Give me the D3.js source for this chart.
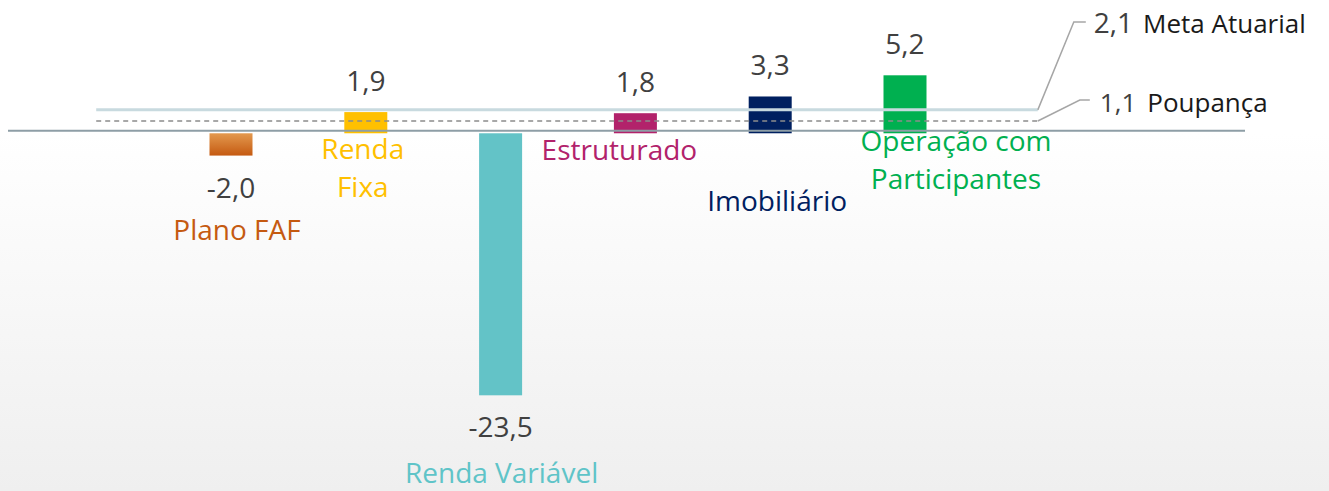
<!DOCTYPE html>
<html>
<head>
<meta charset="utf-8">
<script src="https://cdn.jsdelivr.net/npm/d3@7"></script>
<style>
  html, body { margin: 0; padding: 0; background: #fff; }
  svg { display: block; font-family: "Open Sans", sans-serif; }
</style>
</head>
<body>
<svg id="chart" width="1329" height="491"></svg>
<script>
'use strict'

// data
var categories = ['Plano FAF', 'Renda Fixa', 'Renda Variável', 'Estruturado', 'Imobiliário', 'Operação com Participantes'];
var values = [-2.0, 1.9, -23.5, 1.8, 3.3, 5.2];
var refNames = ['Meta Atuarial', 'Poupança'];
var refValues = [2.1, 1.1];

// layout / style (not data)
var barColors = ['url(#fafGrad)', '#ffc000', '#63c3c7', '#b2226b', '#002060', '#00b050'];
var textColors = ['#c55a11', '#ffc000', '#5fc4c8', '#b2226b', '#002060', '#00b050'];
// category label: lines, x offset from bar center, baseline offset
var labelLines = [['Plano FAF'], ['Renda', 'Fixa'], ['Renda Variável'], ['Estruturado'], ['Imobiliário'], ['Operação com', 'Participantes']];
var labelDx = [6, -3, 1, -16, 7, 51];
var labelDy = [107, 26, 350, 27, 78, 18];

var fmt = function(v){ return v.toFixed(1).replace('.', ','); };

var svg = d3.select('#chart');
var defs = svg.append('defs');
var bg = defs.append('linearGradient').attr('id', 'bgGrad')
	.attr('x1', 0).attr('y1', 0).attr('x2', 0).attr('y2', 1);
bg.append('stop').attr('offset', '0.27').attr('stop-color', '#ffffff');
bg.append('stop').attr('offset', '1').attr('stop-color', '#efefef');
var fg = defs.append('linearGradient').attr('id', 'fafGrad')
	.attr('x1', 0).attr('y1', 0).attr('x2', 0).attr('y2', 1);
fg.append('stop').attr('offset', '0').attr('stop-color', '#e3994f');
fg.append('stop').attr('offset', '1').attr('stop-color', '#c55a11');

svg.append('rect').attr('width', 1329).attr('height', 491).attr('fill', 'url(#bgGrad)');

var x = d3.scalePoint().domain(categories).range([231, 905]);
var step = x.step();
var y = d3.scaleLinear().domain([-23.5, 5.2]).range([395.3, 75.3]);
var barW = 43;

// bars
svg.selectAll('rect.bar').data(values).enter().append('rect')
	.attr('class', 'bar')
	.attr('x', function(d, i){ return x(categories[i]) - barW/2; })
	.attr('width', barW)
	.attr('y', function(d){ return y(Math.max(0, d)); })
	.attr('height', function(d){ return Math.abs(y(d) - y(0)); })
	.attr('fill', function(d, i){ return barColors[i]; });

// reference lines
var lx1 = x(categories[0]) - step;
var lx2 = x(categories[categories.length-1]) + step - 2;
svg.append('line')
	.attr('x1', lx1).attr('x2', lx2)
	.attr('y1', y(refValues[0])).attr('y2', y(refValues[0]))
	.attr('stroke', '#c8dadf').attr('stroke-width', 3);
svg.append('line')
	.attr('x1', lx1).attr('x2', lx2)
	.attr('y1', y(refValues[1])).attr('y2', y(refValues[1]))
	.attr('stroke', '#8c8c8c').attr('stroke-width', 1.3)
	.attr('stroke-dasharray', '5,4');

// zero axis line
svg.append('line')
	.attr('x1', 8).attr('x2', 1245)
	.attr('y1', y(0) - 2.5).attr('y2', y(0) - 2.5)
	.attr('stroke', '#8e9ea6').attr('stroke-width', 2);

// value labels
svg.selectAll('text.val').data(values).enter().append('text')
	.attr('class', 'val')
	.attr('x', function(d, i){ return x(categories[i]); })
	.attr('y', function(d){ return d >= 0 ? y(d) - 21 : y(d) + 42; })
	.attr('text-anchor', 'middle')
	.attr('font-size', 28)
	.attr('fill', '#404040')
	.text(function(d){ return fmt(d); });

// category labels
categories.forEach(function(c, i){
	var t = svg.append('text')
		.attr('text-anchor', 'middle')
		.attr('font-size', 28)
		.attr('fill', textColors[i]);
	labelLines[i].forEach(function(line, k){
		t.append('tspan')
			.attr('x', x(c) + labelDx[i])
			.attr('y', y(0) + labelDy[i] + k*38)
			.text(line);
	});
});

// reference line legends with leader lines
var leaderTop = [22, 100];
var legendBase = [33, 112];
refValues.forEach(function(v, i){
	var yl = y(v);
	svg.append('polyline')
		.attr('points', [[lx2, yl], [lx2 + 36 + i*6, leaderTop[i]], [lx2 + 48 + i*4, leaderTop[i]]].map(function(p){ return p.join(','); }).join(' '))
		.attr('fill', 'none').attr('stroke', '#a6a6a6').attr('stroke-width', 1.5);
	var t = svg.append('text')
		.attr('x', lx2 + 56 + i*6)
		.attr('y', legendBase[i]);
	t.append('tspan').attr('font-size', i === 0 ? 28 : 26).attr('fill', '#404040').text(fmt(v));
	t.append('tspan').attr('dx', i === 0 ? 10 : 11).attr('font-size', 26).attr('fill', '#1a1a1a').text(refNames[i]);
});
</script>
</body>
</html>
